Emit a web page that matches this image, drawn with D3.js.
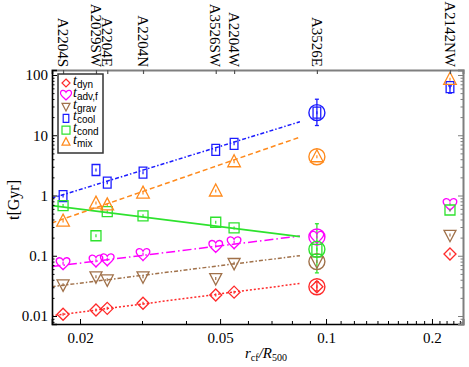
<!DOCTYPE html>
<html>
<head>
<meta charset="utf-8">
<script src="https://cdn.jsdelivr.net/npm/d3@7"></script>
<style>
  body { margin: 0; background: #fff; }
  svg { display: block; }
</style>
</head>
<body>
<svg id="chart"></svg>
<script>
// cluster sub-regions and their cold front radius
const clusters = ['A2204S', 'A2029SW', 'A2204E', 'A2204N', 'A3526SW', 'A2204W', 'A3526E', 'A2142NW'];
const rcf = [0.0179, 0.0222, 0.0239, 0.0302, 0.0486, 0.0548, 0.0942, 0.225];

// timescales in Gyr, one value per cluster
const tDyn  = [0.0107, 0.0126, 0.0134, 0.0163, 0.0223, 0.0249, 0.0306, 0.107];
const tAdv  = [0.075, 0.083, 0.087, 0.106, 0.145, 0.167, 0.205, 0.72];
const tGrav = [0.033, 0.045, 0.040, 0.045, 0.042, 0.075, 0.080, 0.22];
const tCool = [0.98, 2.65, 1.63, 2.39, 5.7, 7.2, 23.7, 63];
const tCond = [0.68, 0.215, 0.54, 0.46, 0.36, 0.29, 0.128, 0.575];
const tMix  = [0.377, 0.75, 0.70, 1.1, 1.19, 3.64, 4.4, 85];

// error bars drawn only where visible
const coolErr = [[6, 14.5, 39.6], [7, 50, 66]];
const condErr = [[6, 0.052, 0.34]];
const dynErr  = [[6, 0.026, 0.037]];

// power-law fits t = norm * (r/0.05)^slope, drawn over fitRange
const fitRange = [0.0166, 0.0843];
const fitNorm  = { dyn: 0.0233, adv: 0.146, grav: 0.0685, cool: 6.54, cond: 0.304, mix: 3.24 };
const fitSlope = { dyn: 0.76, adv: 0.72, grav: 0.73, cool: 1.80, cond: -0.73, mix: 2.02 };

const highlightIndex = 6;  // A3526E is circled

const xMajor = [0.02, 0.05, 0.1, 0.2];
const yMajor = [0.01, 0.1, 1, 10, 100];
const yTickLabels = ['0.01', '0.1', '1', '10', '100'];

const width = 469, height = 367;
const padLeft = 52, padRight = 463, padTop = 70, padBottom = 324;

const svg = d3.select('#chart').attr('width', width).attr('height', height);

const x = d3.scaleLog().domain([0.01665, 0.245]).range([padLeft, padRight]);
const y = d3.scaleLog().domain([0.00737, 121]).range([padBottom, padTop]);

const serif = '"Liberation Serif", "Times New Roman", serif';
const sans = '"Liberation Sans", Arial, sans-serif';

const series = [
  { key: 'dyn',  label: 'dyn',   vals: tDyn,  color: '#ff2a2a', shape: 'diamond', dash: '2,2' },
  { key: 'adv',  label: 'adv,f', vals: tAdv,  color: '#ff00ff', shape: 'heart',   dash: '9,3,1.5,3' },
  { key: 'grav', label: 'grav',  vals: tGrav, color: '#a0714a', shape: 'tridown', dash: '4,2,1.5,2' },
  { key: 'cool', label: 'cool',  vals: tCool, color: '#1c1cff', shape: 'rect',    dash: '4,2,1.5,2' },
  { key: 'cond', label: 'cond',  vals: tCond, color: '#2ee22e', shape: 'square',  dash: null },
  { key: 'mix',  label: 'mix',   vals: tMix,  color: '#ff8a1c', shape: 'triup',   dash: '5,3' }
];

function shapePath(shape, s) {
  if (shape === 'diamond') return `M0,${-s}L${s},0L0,${s}L${-s},0Z`;
  if (shape === 'rect') return `M${-0.7 * s},${-s}H${0.7 * s}V${s}H${-0.7 * s}Z`;
  if (shape === 'square') return `M${-s},${-s}H${s}V${s}H${-s}Z`;
  if (shape === 'triup') return `M0,${-1.1 * s}L${s},${0.8 * s}H${-s}Z`;
  if (shape === 'tridown') return `M0,${1.1 * s}L${s},${-0.8 * s}H${-s}Z`;
  if (shape === 'heart') {
    return `M0,${0.95 * s}C${-0.25 * s},${0.6 * s} ${-s},${0.15 * s} ${-s},${-0.35 * s}` +
      `C${-s},${-0.9 * s} ${-0.25 * s},${-1.0 * s} 0,${-0.45 * s}` +
      `C${0.25 * s},${-1.0 * s} ${s},${-0.9 * s} ${s},${-0.35 * s}` +
      `C${s},${0.15 * s} ${0.25 * s},${0.6 * s} 0,${0.95 * s}Z`;
  }
  return '';
}

const markerSize = { diamond: 6, heart: 6.8, tridown: 6, triup: 6.3, rect: 5.5, square: 5 };

svg.append('defs').append('clipPath').attr('id', 'plot-clip')
  .append('rect')
  .attr('x', padLeft).attr('y', padTop)
  .attr('width', padRight - padLeft).attr('height', padBottom - padTop);

// fit lines
const fitLine = d3.line().x(d => x(d[0])).y(d => y(d[1]));
const fitG = svg.append('g').attr('clip-path', 'url(#plot-clip)');
series.forEach(s => {
  const pts = fitRange.map(r => [r, fitNorm[s.key] * Math.pow(r / 0.05, fitSlope[s.key])]);
  fitG.append('path')
    .attr('d', fitLine(pts))
    .attr('fill', 'none')
    .attr('stroke', s.color)
    .attr('stroke-width', s.key === 'cond' ? 1.8 : 1.5)
    .attr('stroke-dasharray', s.dash);
});

// error bars
function drawErr(list, color) {
  list.forEach(e => {
    const cx = x(rcf[e[0]]);
    svg.append('line')
      .attr('x1', cx).attr('x2', cx)
      .attr('y1', y(e[1])).attr('y2', y(e[2]))
      .attr('stroke', color).attr('stroke-width', 1.3);
    [e[1], e[2]].forEach(v => {
      svg.append('line')
        .attr('x1', cx - 2).attr('x2', cx + 2)
        .attr('y1', y(v)).attr('y2', y(v))
        .attr('stroke', color).attr('stroke-width', 1.3);
    });
  });
}
drawErr(coolErr, series[3].color);
drawErr(condErr, series[4].color);
drawErr(dynErr, series[0].color);

// markers
series.forEach(s => {
  const g = svg.append('g');
  const pts = s.vals.map((v, i) => ({ r: rcf[i], v, i }));
  g.selectAll('path.m')
    .data(pts)
    .enter().append('path')
    .attr('class', 'm')
    .attr('transform', d => `translate(${x(d.r)},${y(d.v)})`)
    .attr('d', shapePath(s.shape, markerSize[s.shape]))
    .attr('fill', 'none')
    .attr('stroke', s.color)
    .attr('stroke-width', 1.3);
  // tiny central error cross
  g.selectAll('line.c')
    .data(pts)
    .enter().append('line')
    .attr('class', 'c')
    .attr('x1', d => x(d.r)).attr('x2', d => x(d.r))
    .attr('y1', d => y(d.v) - 1.5).attr('y2', d => y(d.v) + 1.5)
    .attr('stroke', s.color).attr('stroke-width', 1.2);
  // circle around the highlighted cluster
  const h = pts[highlightIndex];
  g.append('circle')
    .attr('cx', x(h.r)).attr('cy', y(h.v))
    .attr('r', 8)
    .attr('fill', 'none')
    .attr('stroke', s.color)
    .attr('stroke-width', 1.4);
});

// axes
const xMinor = d3.range(2, 25).map(k => k / 100).filter(v => xMajor.indexOf(v) < 0);
const yMinor = [];
[0.001, 0.01, 0.1, 1, 10, 100].forEach(dec => {
  for (let m = 2; m <= 9; m++) {
    const v = dec * m;
    if (v > y.domain()[0] && v < y.domain()[1]) yMinor.push(v);
  }
});

function styleAxis(g, color, w) {
  g.select('.domain').attr('stroke', color).attr('stroke-width', w);
  g.selectAll('.tick line').attr('stroke', color);
  g.selectAll('text').attr('font-family', serif).attr('font-size', 15).attr('fill', '#000');
}

// bottom
const xb = svg.append('g').attr('transform', `translate(0,${padBottom})`)
  .call(d3.axisBottom(x).tickValues(xMajor).tickSize(-5).tickPadding(8).tickFormat(d => String(d)));
styleAxis(xb, '#000', 1.6);
svg.append('g').attr('transform', `translate(0,${padBottom})`)
  .call(d3.axisBottom(x).tickValues(xMinor).tickSize(-3).tickFormat(''))
  .call(g => { g.select('.domain').remove(); g.selectAll('line').attr('stroke', '#000'); });

// top with cluster names
const xt = svg.append('g').attr('transform', `translate(0,${padTop})`)
  .call(d3.axisTop(x).tickValues(rcf).tickSize(-4).tickFormat(''));
styleAxis(xt, '#7f7f7f', 2);
xt.selectAll('.tick line').attr('stroke', '#555').attr('stroke-width', 1.2);
svg.append('g').selectAll('text')
  .data(clusters)
  .enter().append('text')
  .attr('transform', (d, i) => `translate(${x(rcf[i])},${padTop - 3}) rotate(90)`)
  .attr('text-anchor', 'end')
  .attr('dy', '0.35em')
  .attr('font-family', serif)
  .attr('font-size', 15)
  .text(d => d);

// left
const yl = svg.append('g').attr('transform', `translate(${padLeft},0)`)
  .call(d3.axisLeft(y).tickValues(yMajor).tickSize(-5).tickPadding(4)
    .tickFormat((d, i) => yTickLabels[i]));
styleAxis(yl, '#000', 1.6);
svg.append('g').attr('transform', `translate(${padLeft},0)`)
  .call(d3.axisLeft(y).tickValues(yMinor).tickSize(-2.5).tickFormat(''))
  .call(g => { g.select('.domain').remove(); g.selectAll('line').attr('stroke', '#000'); });

// right
const yr = svg.append('g').attr('transform', `translate(${padRight},0)`)
  .call(d3.axisRight(y).tickValues(yMajor).tickSize(-5).tickFormat(''));
styleAxis(yr, '#7f7f7f', 2);
svg.append('g').attr('transform', `translate(${padRight},0)`)
  .call(d3.axisRight(y).tickValues(yMinor).tickSize(-2.5).tickFormat(''))
  .call(g => { g.select('.domain').remove(); g.selectAll('line').attr('stroke', '#7f7f7f'); });

// axis titles
svg.append('text')
  .attr('transform', `translate(19,${(padTop + padBottom) / 2 + 3}) rotate(-90)`)
  .attr('text-anchor', 'middle')
  .attr('font-family', serif)
  .attr('font-size', 16)
  .text('t[Gyr]');

const xl = svg.append('text')
  .attr('x', 266).attr('y', 358)
  .attr('text-anchor', 'middle')
  .attr('font-family', serif)
  .attr('font-size', 15);
xl.append('tspan').attr('font-style', 'italic').text('r');
xl.append('tspan').attr('font-size', 10).attr('dy', 3).text('cf');
xl.append('tspan').attr('font-style', 'italic').attr('dy', -3).text('/R');
xl.append('tspan').attr('font-size', 10).attr('dy', 3).text('500');

// legend
const lg = svg.append('g');
lg.append('rect')
  .attr('x', 58).attr('y', 74)
  .attr('width', 45).attr('height', 79)
  .attr('fill', '#fff')
  .attr('stroke', '#333')
  .attr('stroke-width', 1.5);
series.forEach((s, i) => {
  const cy = 83 + i * 11.8;
  lg.append('path')
    .attr('transform', `translate(66,${cy})`)
    .attr('d', shapePath(s.shape, s.shape === 'heart' ? 5.5 : 4))
    .attr('fill', 'none')
    .attr('stroke', s.color)
    .attr('stroke-width', 1.2);
  const t = lg.append('text')
    .attr('x', 73).attr('y', cy + 2)
    .attr('font-size', 14);
  t.append('tspan').attr('font-family', serif).attr('font-style', 'italic').text('t');
  t.append('tspan').attr('font-family', sans).attr('font-size', 10).attr('dy', 3).text(s.label);
});
</script>
</body>
</html>
